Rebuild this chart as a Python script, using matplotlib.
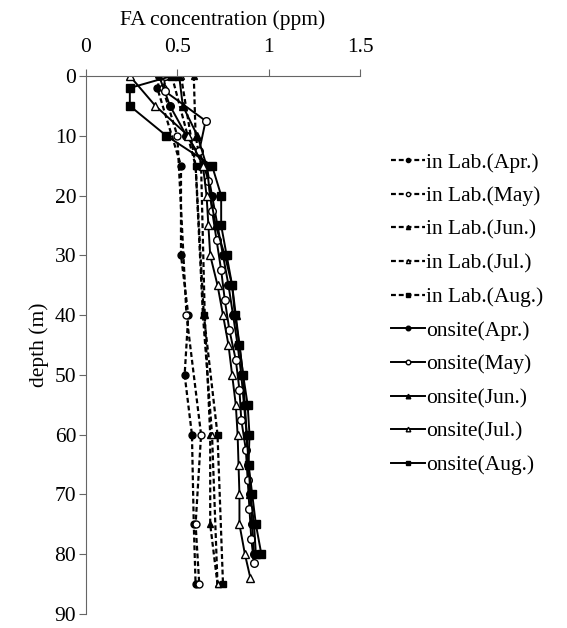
import matplotlib
matplotlib.use("Agg")
import matplotlib.pyplot as plt

plt.rcParams['font.family'] = ['Liberation Serif', 'DejaVu Serif']

# ---- data ----
lab_apr_depth = [0, 2, 15, 30, 40, 50, 60, 75, 85]
lab_apr_fa = [0.41, 0.39, 0.52, 0.52, 0.56, 0.54, 0.58, 0.59, 0.60]

lab_may_depth = [0, 2, 10, 40, 60, 75, 85]
lab_may_fa = [0.45, 0.42, 0.50, 0.55, 0.63, 0.60, 0.62]

lab_jun_depth = [0, 10, 15, 40, 60, 75, 85]
lab_jun_fa = [0.59, 0.60, 0.63, 0.65, 0.68, 0.68, 0.72]

lab_jul_depth = [0, 15, 40, 60, 85]
lab_jul_fa = [0.52, 0.60, 0.64, 0.69, 0.72]

lab_aug_depth = [0, 15, 40, 60, 85]
lab_aug_fa = [0.47, 0.60, 0.645, 0.72, 0.75]

onsite_depth = [0, 5, 10, 15, 20, 25, 30, 35, 40, 45, 50, 55, 60, 65, 70, 75, 80]
onsite_apr_fa = [0.40, 0.46, 0.55, 0.66, 0.69, 0.72, 0.75, 0.78, 0.805, 0.83, 0.85, 0.865, 0.88, 0.885, 0.90, 0.91, 0.92]
onsite_jun_fa = [0.51, 0.53, 0.61, 0.66, 0.68, 0.71, 0.76, 0.80, 0.82, 0.84, 0.86, 0.87, 0.88, 0.89, 0.90, 0.92, 0.93]

onsite_may_depth = [0, 2.5, 7.5, 12.5, 17.5, 22.5, 27.5, 32.5, 37.5, 42.5, 47.5, 52.5, 57.5, 62.5, 67.5, 72.5, 77.5, 81.5]
onsite_may_fa = [0.43, 0.43, 0.655, 0.62, 0.67, 0.69, 0.715, 0.74, 0.76, 0.785, 0.82, 0.84, 0.85, 0.875, 0.885, 0.895, 0.905, 0.92]

onsite_jul_depth = [0, 5, 10, 15, 20, 25, 30, 35, 40, 45, 50, 55, 60, 65, 70, 75, 80, 84]
onsite_jul_fa = [0.24, 0.38, 0.56, 0.64, 0.66, 0.67, 0.68, 0.72, 0.75, 0.78, 0.80, 0.82, 0.83, 0.835, 0.84, 0.84, 0.87, 0.90]

onsite_aug_depth = [0, 2, 5, 10, 15, 20, 25, 30, 35, 40, 45, 50, 55, 60, 65, 70, 75, 80]
onsite_aug_fa = [0.47, 0.24, 0.24, 0.44, 0.69, 0.74, 0.74, 0.77, 0.80, 0.815, 0.84, 0.86, 0.885, 0.895, 0.89, 0.91, 0.93, 0.96]

x_ticks = [0, 0.5, 1, 1.5]
x_tick_labels = ['0', '0.5', '1', '1.5']
y_ticks = [0, 10, 20, 30, 40, 50, 60, 70, 80, 90]

FS = 15.5
W, H = 567, 628

fig = plt.figure(figsize=(W / 100, H / 100), dpi=100)
left, right, top, bottom = 86, 360, 76, 614
ax = fig.add_axes([left / W, 1 - bottom / H, (right - left) / W, (bottom - top) / H])

dash = dict(linestyle=(0, (2.2, 1.3)), color='black', lw=1.6, markersize=5)
solid = dict(linestyle='-', color='black', lw=1.4, markersize=5.5)

ax.plot(lab_apr_fa, lab_apr_depth, marker='o', mfc='black', label='in Lab.(Apr.)', **dash)
ax.plot(lab_may_fa, lab_may_depth, marker='o', mfc='white', label='in Lab.(May)', **dash)
ax.plot(lab_jun_fa, lab_jun_depth, marker='^', mfc='black', label='in Lab.(Jun.)', **dash)
ax.plot(lab_jul_fa, lab_jul_depth, marker='^', mfc='white', label='in Lab.(Jul.)', **dash)
ax.plot(lab_aug_fa, lab_aug_depth, marker='s', mfc='black', label='in Lab.(Aug.)', **dash)

ax.plot(onsite_apr_fa, onsite_depth, marker='o', mfc='black', label='onsite(Apr.)', **solid)
ax.plot(onsite_may_fa, onsite_may_depth, marker='o', mfc='white', label='onsite(May)', **solid)
ax.plot(onsite_jun_fa, onsite_depth, marker='^', mfc='black', label='onsite(Jun.)', **solid)
ax.plot(onsite_jul_fa, onsite_jul_depth, marker='^', mfc='white', label='onsite(Jul.)', **solid)
ax.plot(onsite_aug_fa, onsite_aug_depth, marker='s', mfc='black', label='onsite(Aug.)', **solid)

ax.set_xlim(0, 1.5)
ax.set_ylim(90, 0)
ax.xaxis.tick_top()
ax.xaxis.set_label_position('top')
ax.set_xticks(x_ticks)
ax.set_xticklabels(x_tick_labels)
ax.set_yticks(y_ticks)
ax.spines['right'].set_visible(False)
ax.spines['bottom'].set_visible(False)
ax.spines['top'].set_color('#666666')
ax.spines['left'].set_color('#666666')
ax.tick_params(axis='both', labelsize=FS, color='#666666', length=5, direction='out')
ax.tick_params(axis='x', pad=9)
ax.tick_params(axis='y', pad=2)
ax.set_xlabel('FA concentration (ppm)', fontsize=FS, labelpad=9)
ax.set_ylabel('depth (m)', fontsize=FS, labelpad=4)

leg = fig.legend(loc='center left', bbox_to_anchor=(0.690, 0.50), frameon=False,
                 fontsize=FS, handlelength=1.55, handletextpad=0.05,
                 labelspacing=0.63, markerscale=0.6, borderpad=0, borderaxespad=0)

fig.savefig('out.png', dpi=100)
